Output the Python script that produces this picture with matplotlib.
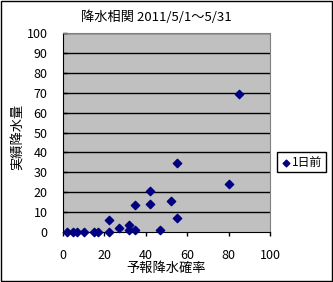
import numpy as np
from matplotlib import pyplot as plt

plt.rcParams['font.family'] = ['Noto Sans CJK JP', 'DejaVu Sans']

# 予報降水確率 (%) vs 実績降水量 (mm)
prob = [2, 5, 7, 10, 15, 17, 22, 22, 27, 32, 32, 35, 35, 42, 42, 47, 52, 55, 55, 80, 85]
rain = [0, 0, 0, 0, 0, 0, 0, 6, 2, 3.5, 1, 1, 13.5, 20.5, 14, 1, 15.5, 7, 34.5, 24, 69.5]

xticks = [0, 20, 40, 60, 80, 100]
yticks = [0, 10, 20, 30, 40, 50, 60, 70, 80, 90, 100]

fig = plt.figure(figsize=(3.33, 2.82), dpi=100)
ax = fig.add_axes([0.189, 0.177, 0.622, 0.706])
ax.set_facecolor('#c0c0c0')

for y in yticks[1:]:
    ax.axhline(y, color='black', lw=1, zorder=1)

ax.scatter(prob, rain, marker='D', s=18, color='#000080', zorder=3, label='1日前', clip_on=False)

ax.set_xlim(0, 100)
ax.set_ylim(0, 100)
ax.set_xticks(xticks)
ax.set_yticks(yticks)
ax.tick_params(labelsize=9, length=3, width=1, color='black')
ax.tick_params(axis='x', pad=9)
ax.tick_params(axis='y', direction='in', pad=11)

for s in ['top', 'right']:
    ax.spines[s].set_color('#808080')
for s in ['left', 'bottom']:
    ax.spines[s].set_color('black')

ax.set_xlabel('予報降水確率', fontsize=9.5, labelpad=0)
ax.set_ylabel('実績降水量', fontsize=9.5)
ax.yaxis.set_label_coords(-0.19, 0.48)
fig.text(0.468, 0.94, '降水相関 2011/5/1～5/31', fontsize=9.5, ha='center', va='center')

leg = ax.legend(loc='center left', bbox_to_anchor=(1.005, 0.35), fontsize=8.5,
                frameon=True, fancybox=False, edgecolor='black', framealpha=1,
                handletextpad=0.0, handlelength=1.0, borderpad=0.3, markerscale=0.8)
leg.get_frame().set_linewidth(1)

fig.patches.append(plt.Rectangle((0.002, 0.004), 0.994, 0.992, transform=fig.transFigure,
                                 fill=False, edgecolor='black', lw=1))

fig.savefig('out.png', dpi=100)
